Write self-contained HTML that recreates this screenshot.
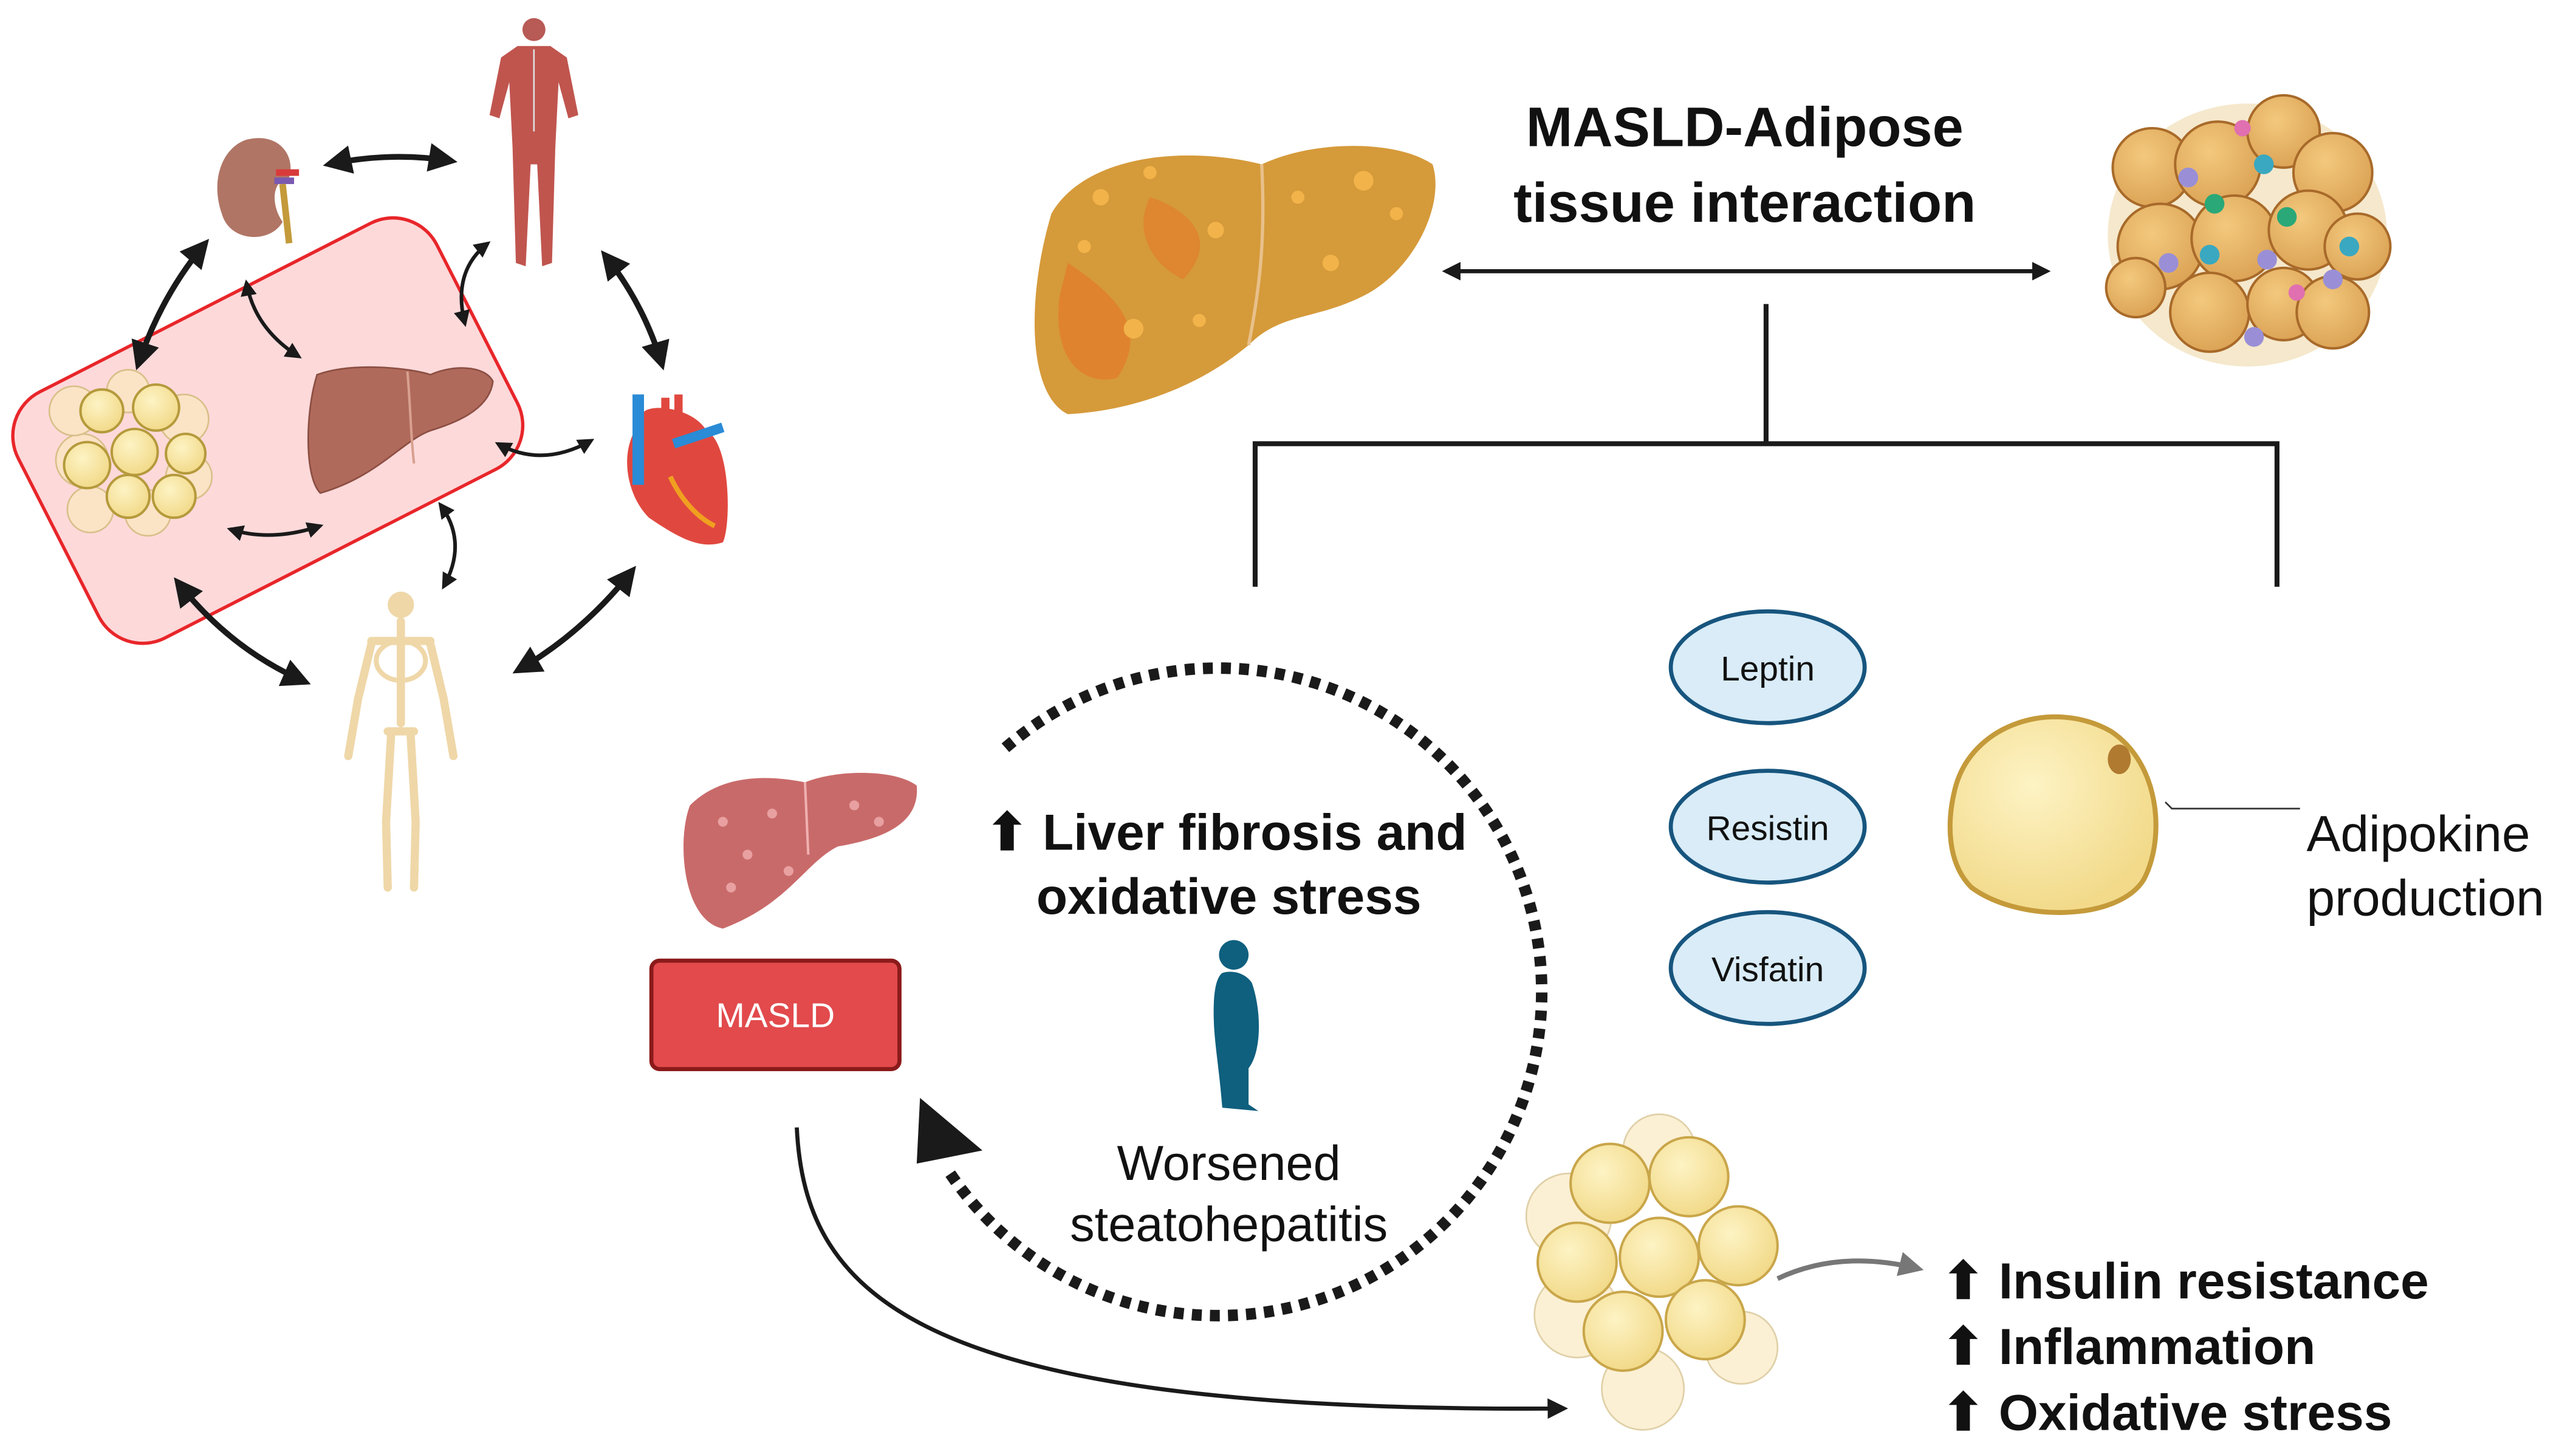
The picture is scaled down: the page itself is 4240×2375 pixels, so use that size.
<!DOCTYPE html>
<html><head><meta charset="utf-8"><style>
html,body{margin:0;padding:0;background:#fff;}
svg{display:block;}
</style></head><body>
<svg width="4240" height="2375" viewBox="0 0 1568 878" preserveAspectRatio="none" xmlns="http://www.w3.org/2000/svg" font-family="Liberation Sans, sans-serif">
<defs>
<marker id="ah" viewBox="0 0 10 10" refX="8" refY="5" markerWidth="4.5" markerHeight="4.5" orient="auto-start-reverse"><path d="M0,0 L10,5 L0,10 z" fill="#1a1a1a"/></marker>
<marker id="ahs" viewBox="0 0 10 10" refX="8" refY="5" markerWidth="5" markerHeight="5" orient="auto-start-reverse"><path d="M0,0 L10,5 L0,10 z" fill="#1a1a1a"/></marker>
<marker id="ahg" viewBox="0 0 10 10" refX="8" refY="5" markerWidth="5" markerHeight="5" orient="auto"><path d="M0,0 L10,5 L0,10 z" fill="#777"/></marker>
<radialGradient id="fat" cx="40%" cy="35%" r="65%"><stop offset="0" stop-color="#fdf3c4"/><stop offset="1" stop-color="#f2da8a"/></radialGradient>
<radialGradient id="fat2" cx="40%" cy="35%" r="65%"><stop offset="0" stop-color="#f3c97e"/><stop offset="1" stop-color="#dca456"/></radialGradient>
</defs>

<rect x="20" y="178" width="286" height="168" rx="30" transform="rotate(-27 163 262)" fill="#fdd9da" stroke="#e8262a" stroke-width="2"/>

<g stroke="#d9c08a" stroke-width="1">
<circle cx="50" cy="280" r="16" fill="#fbe3c6"/><circle cx="45" cy="250" r="15" fill="#fbe3c6"/><circle cx="112" cy="255" r="15" fill="#fbe3c6"/><circle cx="115" cy="290" r="14" fill="#fbe3c6"/><circle cx="55" cy="310" r="14" fill="#fbe3c6"/><circle cx="90" cy="312" r="14" fill="#fbe3c6"/><circle cx="78" cy="238" r="13" fill="#fbe3c6"/>
</g>
<g stroke="#b59a3c" stroke-width="1.5" fill="url(#fat)">
<circle cx="62" cy="250" r="13"/><circle cx="95" cy="248" r="14"/><circle cx="82" cy="275" r="14"/><circle cx="53" cy="283" r="14"/><circle cx="113" cy="276" r="12"/><circle cx="78" cy="302" r="13"/><circle cx="106" cy="302" r="13"/>
</g>

<path d="M193,228 C215,220 250,224 262,228 C275,222 295,222 300,232 C298,250 275,258 262,262 C245,268 230,290 195,300 C185,290 186,250 193,228 z" fill="#b06a5b" stroke="#8c4f43" stroke-width="1"/>
<path d="M248,226 C250,250 250,265 252,282" stroke="#d8a090" stroke-width="1.5" fill="none"/>

<path d="M150,85 C170,80 180,95 176,108 C165,110 165,125 172,135 C165,148 140,148 135,130 C128,110 135,90 150,85 z" fill="#b07565"/>
<rect x="168" y="103" width="14" height="4" fill="#d83a3a"/><rect x="167" y="108" width="12" height="4" fill="#7a5ab0"/>
<path d="M172,112 L176,148" stroke="#c49a3a" stroke-width="4"/>

<g fill="#c0554e">
<circle cx="325" cy="18" r="7" fill="#b85a55"/>
<path d="M315,28 L335,28 L345,35 L352,70 L346,72 L340,50 L338,90 L336,160 L330,162 L327,100 L323,100 L320,162 L314,160 L312,90 L310,50 L304,72 L298,70 L305,35 z"/>
</g>
<path d="M325,30 L325,80" stroke="#ddd" stroke-width="1"/>

<path d="M392,255 C385,245 420,245 430,262 C445,270 445,320 440,330 C425,335 410,325 395,315 C380,300 376,270 392,255 z" fill="#e0483f"/>
<rect x="385" y="240" width="7" height="55" fill="#2a8bd6"/>
<path d="M410,270 L440,260" stroke="#2a8bd6" stroke-width="6"/>
<path d="M405,242 L405,262 M413,240 L413,260" stroke="#e0483f" stroke-width="5"/>
<path d="M408,290 C415,305 425,315 435,320" stroke="#f0a020" stroke-width="3" fill="none"/>

<g stroke="#efd7a8" stroke-width="5" fill="none" stroke-linecap="round">
<circle cx="244" cy="368" r="8" fill="#efd7a8" stroke="none"/>
<path d="M244,378 L244,440"/><path d="M226,390 L262,390"/><ellipse cx="244" cy="402" rx="15" ry="12" stroke-width="3"/>
<path d="M226,392 L218,425 L212,460 M262,392 L270,425 L276,460"/>
<path d="M236,445 L252,445 M238,448 L235,500 L236,540 M250,448 L253,500 L252,540"/>
</g>

<g stroke="#1a1a1a" stroke-width="3.5" fill="none" marker-start="url(#ahs)" marker-end="url(#ahs)">
<path d="M200,100 Q238,92 275,98"/>
<path d="M125,148 Q98,180 84,222"/>
<path d="M368,155 Q392,185 403,222"/>
<path d="M108,354 Q140,395 186,415"/>
<path d="M315,408 Q355,385 385,347"/>
</g>
<g stroke="#1a1a1a" stroke-width="2.2" fill="none" marker-start="url(#ah)" marker-end="url(#ah)">
<path d="M150,172 Q155,200 182,217"/>
<path d="M297,148 Q275,165 283,197"/>
<path d="M303,270 Q330,285 360,268"/>
<path d="M140,322 Q165,330 195,320"/>
<path d="M268,307 Q285,330 270,357"/>
</g>

<text x="1062" y="89" font-size="34" font-weight="bold" text-anchor="middle" fill="#111">MASLD-Adipose</text>
<text x="1062" y="135" font-size="34" font-weight="bold" text-anchor="middle" fill="#111">tissue interaction</text>
<line x1="880" y1="165" x2="1246" y2="165" stroke="#1a1a1a" stroke-width="2.5" marker-start="url(#ah)" marker-end="url(#ah)"/>
<path d="M1075,185 L1075,270 M764,357 L764,270 L1386,270 L1386,357" stroke="#1a1a1a" stroke-width="3" fill="none"/>

<path d="M640,130 C660,95 720,88 768,100 C800,85 850,85 872,100 C880,125 860,165 830,180 C800,195 780,190 760,210 C730,235 690,250 650,252 C625,240 625,180 640,130 z" fill="#d59a3a"/>
<path d="M650,160 C680,180 700,200 680,230 C660,235 640,220 645,180 z" fill="#e4792a" opacity="0.7"/>
<path d="M700,120 C730,130 740,150 720,170 C700,160 690,140 700,120 z" fill="#e4792a" opacity="0.6"/>
<g fill="#f2b34a"><circle cx="670" cy="120" r="5"/><circle cx="700" cy="105" r="4"/><circle cx="740" cy="140" r="5"/><circle cx="790" cy="120" r="4"/><circle cx="830" cy="110" r="6"/><circle cx="850" cy="130" r="4"/><circle cx="810" cy="160" r="5"/><circle cx="690" cy="200" r="6"/><circle cx="730" cy="195" r="4"/><circle cx="660" cy="150" r="4"/></g>
<path d="M768,100 C770,140 768,170 760,210" stroke="#e8c08a" stroke-width="2" fill="none"/>

<ellipse cx="1368" cy="143" rx="85" ry="80" fill="#f3e2bf" opacity="0.8"/>
<g fill="url(#fat2)" stroke="#a86a2a" stroke-width="1.5">
<circle cx="1310" cy="102" r="24"/><circle cx="1350" cy="100" r="26"/><circle cx="1390" cy="80" r="22"/><circle cx="1420" cy="105" r="24"/><circle cx="1315" cy="150" r="26"/><circle cx="1360" cy="145" r="26"/><circle cx="1405" cy="140" r="24"/><circle cx="1435" cy="150" r="20"/><circle cx="1345" cy="190" r="24"/><circle cx="1390" cy="185" r="22"/><circle cx="1420" cy="190" r="22"/><circle cx="1300" cy="175" r="18"/>
</g>
<g><circle cx="1332" cy="108" r="6" fill="#9a8fd6"/><circle cx="1378" cy="100" r="6" fill="#3aa8c0"/><circle cx="1392" cy="132" r="6" fill="#2aa878"/><circle cx="1348" cy="124" r="6" fill="#2aa878"/><circle cx="1345" cy="155" r="6" fill="#3aa8c0"/><circle cx="1320" cy="160" r="6" fill="#9a8fd6"/><circle cx="1380" cy="158" r="6" fill="#9a8fd6"/><circle cx="1430" cy="150" r="6" fill="#3aa8c0"/><circle cx="1398" cy="178" r="5" fill="#e070b0"/><circle cx="1372" cy="205" r="6" fill="#9a8fd6"/><circle cx="1365" cy="78" r="5" fill="#e070b0"/><circle cx="1420" cy="170" r="6" fill="#9a8fd6"/></g>

<path d="M420,490 C440,470 470,472 490,476 C510,468 545,468 558,478 C560,500 540,510 510,515 C490,525 480,550 440,565 C415,560 412,510 420,490 z" fill="#c96a6a"/>
<g fill="#e8a0a0"><circle cx="440" cy="500" r="3"/><circle cx="455" cy="520" r="3"/><circle cx="470" cy="495" r="3"/><circle cx="520" cy="490" r="3"/><circle cx="535" cy="500" r="3"/><circle cx="445" cy="540" r="3"/><circle cx="480" cy="530" r="3"/></g>
<path d="M490,476 L492,520" stroke="#f0b0b0" stroke-width="1.5"/>

<rect x="396.5" y="584.5" width="151" height="66" rx="5" fill="#e24a4c" stroke="#8b1a1a" stroke-width="2.5"/>
<text x="472" y="625" font-size="21" fill="#fff" text-anchor="middle">MASLD</text>

<path d="M612,455 A197,197 0 1 1 577,712" fill="none" stroke="#1a1a1a" stroke-width="7" stroke-dasharray="6 5"/>
<path d="M560,668 L598,700 L558,708 z" fill="#1a1a1a"/>

<text x="600" y="517" font-size="31" font-weight="bold" fill="#111">⬆ Liver fibrosis and</text>
<text x="748" y="556" font-size="31" font-weight="bold" text-anchor="middle" fill="#111">oxidative stress</text>

<circle cx="751" cy="581" r="9" fill="#0f5f7e"/>
<path d="M744,592 C740,595 738,605 739,625 C740,640 742,650 744,674 L766,676 L760,672 L760,650 C768,640 768,615 762,598 C758,592 750,590 744,592 z" fill="#0f5f7e"/>

<text x="748" y="718" font-size="30" text-anchor="middle" fill="#111">Worsened</text>
<text x="748" y="755" font-size="30" text-anchor="middle" fill="#111">steatohepatitis</text>

<path d="M485,686 C490,790 560,860 952,857" stroke="#1a1a1a" stroke-width="2.5" fill="none" marker-end="url(#ahs)"/>

<g fill="#fbf0d4" stroke="#e0d0a8" stroke-width="1"><circle cx="955" cy="740" r="26"/><circle cx="960" cy="800" r="26"/><circle cx="1000" cy="845" r="25"/><circle cx="1060" cy="820" r="22"/><circle cx="1010" cy="700" r="22"/></g>
<g fill="url(#fat)" stroke="#c9a64a" stroke-width="1.5"><circle cx="980" cy="720" r="24"/><circle cx="1028" cy="716" r="24"/><circle cx="960" cy="768" r="24"/><circle cx="1010" cy="765" r="24"/><circle cx="1058" cy="758" r="24"/><circle cx="988" cy="810" r="24"/><circle cx="1038" cy="803" r="24"/></g>

<path d="M1082,778 Q1120,760 1168,772" stroke="#777" stroke-width="3" fill="none" marker-end="url(#ahg)"/>
<text x="1182" y="790" font-size="31" font-weight="bold" fill="#111">⬆ Insulin resistance</text>
<text x="1182" y="830" font-size="31" font-weight="bold" fill="#111">⬆ Inflammation</text>
<text x="1182" y="870" font-size="31" font-weight="bold" fill="#111">⬆ Oxidative stress</text>

<g fill="#d9ecf8" stroke="#17557e" stroke-width="2.5">
<ellipse cx="1076" cy="406" rx="59" ry="34"/><ellipse cx="1076" cy="503" rx="59" ry="34"/><ellipse cx="1076" cy="589" rx="59" ry="34"/>
</g>
<g font-size="21" fill="#111" text-anchor="middle"><text x="1076" y="414">Leptin</text><text x="1076" y="511">Resistin</text><text x="1076" y="597">Visfatin</text></g>

<path d="M1190,480 C1200,440 1250,425 1285,445 C1315,465 1318,510 1305,535 C1290,560 1230,562 1200,540 C1185,525 1185,500 1190,480 z" fill="url(#fat)" stroke="#c49a3a" stroke-width="3"/>
<ellipse cx="1290" cy="462" rx="7" ry="9" fill="#b07a30"/>
<path d="M1318,488 L1322,492 L1400,492" stroke="#333" stroke-width="1" fill="none"/>
<text x="1404" y="518" font-size="31" fill="#111">Adipokine</text>
<text x="1404" y="557" font-size="31" fill="#111">production</text>
</svg>
</body></html>
